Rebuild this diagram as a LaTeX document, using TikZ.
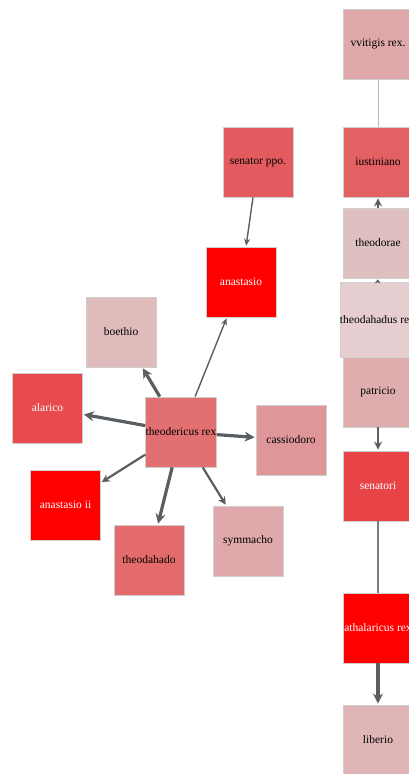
\documentclass[tikz,border=0pt]{standalone}
\usepackage{fontspec}
\setmainfont{Liberation Serif}
\usetikzlibrary{arrows.meta}
\definecolor{edgec}{HTML}{595E62}
\definecolor{bord}{HTML}{CFCFCF}
\definecolor{cVvitigis}{HTML}{DFA8AA}
\definecolor{cIust}{HTML}{E36063}
\definecolor{cTheodorae}{HTML}{DFC0C0}
\definecolor{cTheodahadus}{HTML}{E6CED0}
\definecolor{cPatricio}{HTML}{DFADAE}
\definecolor{cSenatori}{HTML}{E84447}
\definecolor{cRed}{HTML}{FF0000}
\definecolor{cLiberio}{HTML}{DFB5B6}
\definecolor{cSenPpo}{HTML}{E35B5F}
\definecolor{cTheoderic}{HTML}{E37071}
\definecolor{cBoethio}{HTML}{DFBBBB}
\definecolor{cAlarico}{HTML}{E84B4D}
\definecolor{cCassiodoro}{HTML}{DF9698}
\definecolor{cTheodahado}{HTML}{E36B6C}
\definecolor{cSymmacho}{HTML}{DFA8AA}
\tikzset{
  box/.style={draw=bord, line width=0.8pt, minimum width=70pt, minimum height=70pt, inner sep=0pt,
    font=\fontsize{11.5}{13}\selectfont, text=black},
  bigbox/.style={box, minimum width=75pt, minimum height=75pt},
  wtext/.style={text=white},
  thick edge/.style={draw=edgec, line width=3.2pt, -{Stealth[length=10pt,width=10pt]}, shorten >=1pt},
  mid edge/.style={draw=edgec, line width=2.2pt, -{Stealth[length=8pt,width=8pt]}, shorten >=1pt},
  thin edge/.style={draw=edgec, line width=1.4pt, -{Stealth[length=7pt,width=6pt]}, shorten >=1pt},
  plain edge/.style={draw=edgec!80, line width=1.2pt},
  faint edge/.style={draw=gray!55, line width=0.9pt}
}
\begin{document}
\begin{tikzpicture}[x=1pt,y=-1pt]
\useasboundingbox (0,0) rectangle (409,774);
\clip (0,0) rectangle (409,774);
% right column
\node[box, fill=cVvitigis] (vvitigis) at (378,44) {vvitigis rex.};
\node[box, fill=cIust] (iust) at (378,162) {iustiniano};
\node[box, fill=cTheodorae] (theodorae) at (378,243) {theodorae};
\node[box, fill=cPatricio] (patricio) at (378,392) {patricio};
\node[bigbox, fill=cTheodahadus] (theodahadus) at (377.5,319.5) {theodahadus rex};
\node[box, fill=cSenatori, wtext] (senatori) at (378,486) {senatori};
\node[box, fill=cRed, wtext] (athal) at (378,628) {athalaricus rex};
\node[box, fill=cLiberio] (liberio) at (378,740) {liberio};
\draw[faint edge] (vvitigis) -- (iust);
\draw[mid edge] (theodorae) -- (iust);
\draw[mid edge, -{Stealth[length=4pt,width=6pt]}] (theodahadus) -- (theodorae);
\draw[mid edge] (patricio) -- (senatori);
\draw[plain edge] (senatori) -- (athal);
\draw[thick edge] (athal) -- (liberio);
% left graph
\node[box, fill=cSenPpo] (senppo) at (258,162) {senator ppo.};
\node[box, fill=cRed, wtext] (anastasio) at (241,282) {anastasio};
\node[box, fill=cTheoderic] (theoderic) at (181,432) {theodericus rex};
\node[box, fill=cBoethio] (boethio) at (121,332) {boethio};
\node[box, fill=cAlarico, wtext] (alarico) at (47.5,408) {alarico};
\node[box, fill=cCassiodoro] (cassiodoro) at (291,440) {cassiodoro};
\node[box, fill=cRed, wtext] (anastasioii) at (65.5,505) {anastasio ii};
\node[box, fill=cTheodahado] (theodahado) at (149,560) {theodahado};
\node[box, fill=cSymmacho] (symmacho) at (248,541) {symmacho};
\draw[thin edge] (senppo) -- (anastasio);
\draw[thin edge] (theoderic) -- (anastasio);
\draw[thick edge] (theoderic) -- (boethio);
\draw[thick edge] (theoderic) -- (alarico);
\draw[thick edge] (theoderic) -- (cassiodoro);
\draw[mid edge] (theoderic) -- (anastasioii);
\draw[thick edge] (theoderic) -- (theodahado);
\draw[mid edge] (theoderic) -- (symmacho);
\end{tikzpicture}
\end{document}
